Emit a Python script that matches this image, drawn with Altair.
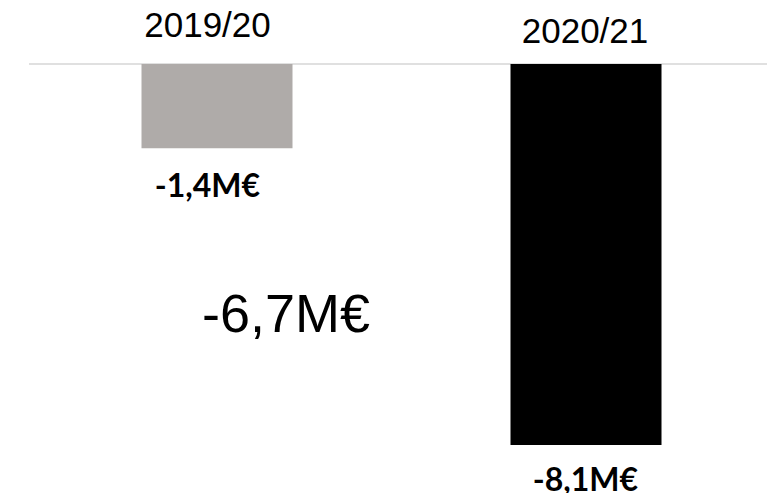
import altair as alt
import pandas as pd

seasons = ["2019/20", "2020/21"]
values = [-1.4, -8.1]
value_labels = ["-1,4M€", "-8,1M€"]
bar_colors = ["#afaba9", "#000000"]
diff_label = "-6,7M€"

df = pd.DataFrame({
    "season": seasons,
    "value": values,
    "label": value_labels,
    "color": bar_colors,
})

x_enc = alt.X("season:N", scale=alt.Scale(domain=seasons, paddingInner=0, paddingOuter=0), axis=None)
y_scale = alt.Scale(domain=[-9, 0.5], nice=False, zero=False)
TOP = 0.5

base = alt.Chart(df)

baseline = alt.Chart(pd.DataFrame({"v": [TOP]})).mark_rule(color="#e0e0e0", strokeWidth=2).encode(
    y=alt.Y("v:Q", scale=y_scale, axis=None),
    x=alt.value(0), x2=alt.value(739),
)

bars = base.mark_bar(size=151, xOffset=3.5).encode(
    x=x_enc,
    y=alt.Y("value:Q", scale=y_scale, axis=None),
    y2=alt.datum(TOP),
    color=alt.Color("color:N", scale=None, legend=None),
)

first = base.transform_filter(alt.datum.season == seasons[0])
second = base.transform_filter(alt.datum.season == seasons[1])

cat1 = first.mark_text(
    font="Liberation Sans", fontSize=35, dx=-6, baseline="alphabetic", color="#000"
).encode(x=x_enc, y=alt.value(-27), text="season:N")

cat2 = second.mark_text(
    font="Liberation Sans", fontSize=35, dx=2.5, baseline="alphabetic", color="#000"
).encode(x=x_enc, y=alt.value(-21), text="season:N")

val1 = first.mark_text(
    font="Lato", fontWeight="bold", fontSize=32, dx=-6, dy=49, baseline="alphabetic", color="#000"
).encode(x=x_enc, y=alt.Y("value:Q", scale=y_scale, axis=None), text="label:N")

val2 = second.mark_text(
    font="Lato", fontWeight="bold", fontSize=32, dx=3, dy=46, baseline="alphabetic", color="#000"
).encode(x=x_enc, y=alt.Y("value:Q", scale=y_scale, axis=None), text="label:N")

diff = alt.Chart(pd.DataFrame({"t": [diff_label]})).mark_text(
    font="Liberation Sans", fontSize=54, baseline="alphabetic", align="center", color="#000"
).encode(x=alt.value(257), y=alt.value(268), text="t:N")

chart = alt.layer(baseline, bars, cat1, cat2, val1, val2, diff).properties(
    width=738, height=421,
    autosize=alt.AutoSizeParams(type="none"),
    padding={"left": 21, "top": 56, "right": 0, "bottom": 8},
).configure_view(stroke=None)

chart.save("out.html", embed_options={"renderer": "svg", "actions": False})
